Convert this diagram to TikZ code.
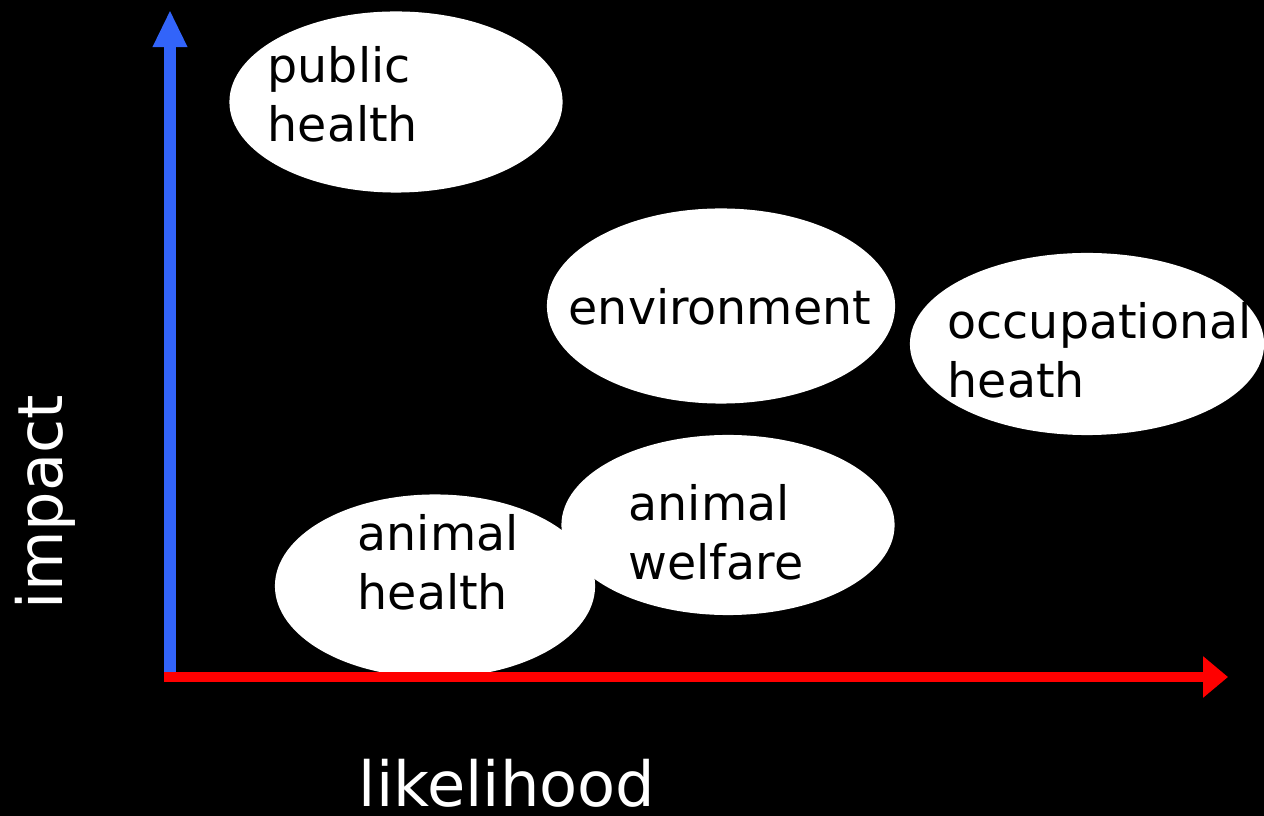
\documentclass[tikz,border=0pt]{standalone}
\usepackage{fontspec}
\setmainfont{DejaVu Sans}
\usetikzlibrary{shapes.geometric,arrows.meta}
\definecolor{axisblue}{RGB}{50,100,250}
\definecolor{axisred}{RGB}{255,0,0}
\tikzset{
  blob/.style={ellipse, fill=white, inner sep=0pt},
  lbl/.style={anchor=base west, align=left, inner sep=0pt, text=black,
    font=\fontsize{13.5}{17.0}\selectfont},
  axislbl/.style={anchor=base west, inner sep=0pt, text=white,
    font=\fontsize{17.7}{21}\selectfont}
}
\begin{document}
\begin{tikzpicture}[x=0.01cm, y=-0.01cm]
  \fill[black] (0,0) rectangle (1264,816);
  \useasboundingbox (0,0) rectangle (1264,816);
  % the five areas
  \node[blob, minimum width=3.33cm, minimum height=1.81cm] (pub) at (396,102) {};
  \node[blob, minimum width=3.48cm, minimum height=1.95cm] (env) at (721,306) {};
  \node[blob, minimum width=3.54cm, minimum height=1.82cm] (occ) at (1087,344) {};
  \node[blob, minimum width=3.20cm, minimum height=1.83cm] (ah) at (435,586) {};
  \node[blob, minimum width=3.33cm, minimum height=1.80cm] (aw) at (728,525) {};
  % base of the last line
  \node[lbl] (pubtxt) at (267,142) {public\\health};
  \node[lbl] (envtxt) at (568,325) {environment};
  \node[lbl] (occtxt) at (947,398) {occupational\\heath};
  \node[lbl] (ahtxt) at (357,610) {animal\\health};
  \node[lbl] (awtxt) at (628,580) {animal\\welfare};
  % axes
  \coordinate (o) at (170,678);
  \coordinate (xo) at (164,677);
  \coordinate (ytop) at (170,10);
  \coordinate (xend) at (1228,677);
  \draw[axisblue, line width=0.12cm, -{Triangle[width=0.32cm, length=0.37cm]}] (o) -- (ytop);
  \draw[axisred, line width=0.1cm, -{Triangle[width=0.40cm, length=0.25cm]}] (xo) -- (xend);
  \node[axislbl, rotate=90] (impact) at (62,610) {impact};
  \node[axislbl] (likelihood) at (358,806) {likelihood};
\end{tikzpicture}
\end{document}
